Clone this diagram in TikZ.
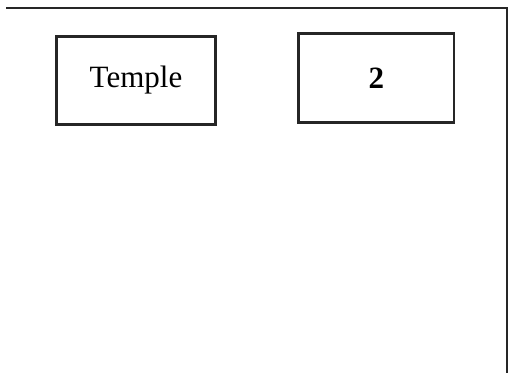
\documentclass[tikz,border=0pt]{standalone}
\usepackage{fontspec}
\setmainfont{Liberation Serif}
\usetikzlibrary{positioning}

\begin{document}
\begin{tikzpicture}[
			x=1pt, y=-1pt,
			frame/.style={line width=2.9pt, draw=black!85},
			plotbox/.style={draw=black!85, line width=2.8pt, inner sep=0pt,
			minimum height=88.5pt, font={\fontsize{31}{36}\selectfont}}
	]
	\useasboundingbox (0,0) rectangle (511,373);
	% outer border, open on the left and bottom
	\draw[frame] (6,8) -- (507,8) -- (507,373);

	\node[plotbox, minimum width=159.5pt] (temple) at (136,80.5) {Temple};
	\node[plotbox, minimum width=155.5pt, font={\fontsize{31}{36}\selectfont\bfseries},
			right=80pt of temple, yshift=2.5pt] (plot2) {2};
\end{tikzpicture}
\end{document}
